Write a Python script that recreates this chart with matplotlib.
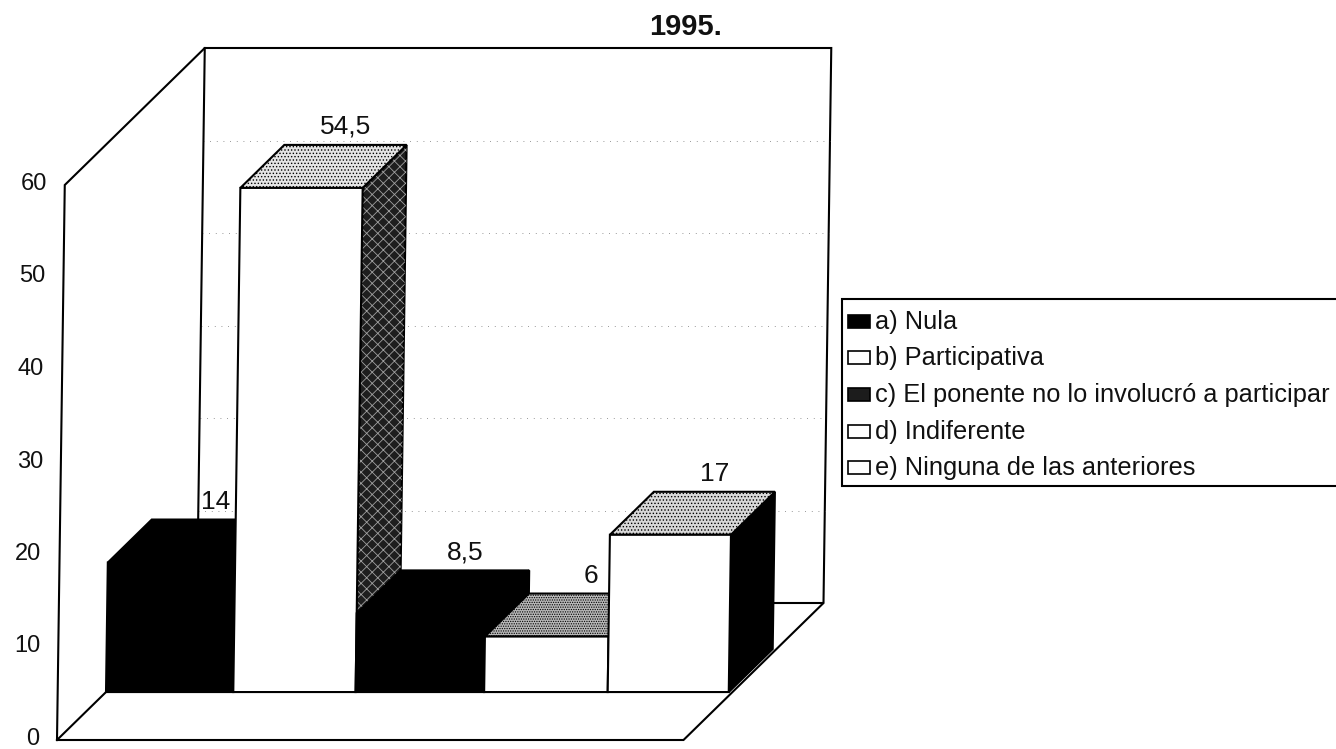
import matplotlib
matplotlib.use('Agg')
import matplotlib.pyplot as plt
from matplotlib.patches import Polygon, Rectangle

plt.rcParams['font.family'] = ['Liberation Sans', 'DejaVu Sans']
plt.rcParams['hatch.linewidth'] = 0.6

# Datos
categorias = ['a) Nula', 'b) Participativa', 'c) El ponente no lo involucró a participar',
              'd) Indiferente', 'e) Ninguna de las anteriores']
valores = [14, 54.5, 8.5, 6, 17]
etiquetas = ['14', '54,5', '8,5', '6', '17']
ticks_y = [0, 10, 20, 30, 40, 50, 60]

# Estilo de cada barra: frente, tapa, lado
col_frente = ['black', 'white', 'black', 'white', 'white']
col_tapa = ['black', '#e4e4e4', 'black', '#b8b8b8', '#d8d8d8']
col_lado = ['black', '#1e1e1e', 'black', 'black', 'black']
trama_tapa = [None, '.....', None, '.......', '.....']

# Escalas en pixeles de la imagen
W, H = 1336, 749
px_cat = 124.8
px_val = 9.25
x0, y0 = 57, 740
prof_x = 140 / px_cat
prof_y = 137 / px_val
inclina = 0.014 * px_val / px_cat
d_frente = 0.35
d_fondo = 0.664
ancho_suelo = 5.02
# Las barras del original no miden todas lo mismo
bordes = [0, 1.02, 2.0, 3.03, 4.02, 4.99]


def proy(u, v, d):
    return (u + prof_x * d + inclina * v, v + prof_y * d)


def fx(px):
    return px / W


def fy(py):
    return 1 - py / H


fig = plt.figure(figsize=(W / 100, H / 100), dpi=100, facecolor='white')
ax = fig.add_axes([0, 0, 1, 1])
ax.set_xlim(-x0 / px_cat, (W - x0) / px_cat)
ax.set_ylim(-(H - y0) / px_val, y0 / px_val)
ax.axis('off')

lw = 1.5
vmax = ticks_y[-1]

# Lineas de rejilla sobre la pared del fondo
for t in ticks_y[1:-1]:
    a, b = proy(0, t, 1), proy(ancho_suelo, t, 1)
    ax.plot([a[0], b[0]], [a[1], b[1]], color='#777777', lw=0.6,
            dashes=(1, 7), zorder=1)

# Pared izquierda, fondo y suelo
pared = [proy(0, 0, 0), proy(0, vmax, 0), proy(0, vmax, 1),
         proy(ancho_suelo, vmax, 1), proy(ancho_suelo, 0, 1), proy(ancho_suelo, 0, 0)]
ax.add_patch(Polygon(pared + [proy(0, 0, 0)], closed=True, fc='white', ec='black', lw=lw, zorder=0.5))
for p, q in [(proy(0, 0, 1), proy(0, vmax, 1)),
             (proy(0, 0, 0), proy(0, 0, 1)),
             (proy(0, 0, 1), proy(ancho_suelo, 0, 1))]:
    ax.plot([p[0], q[0]], [p[1], q[1]], color='black', lw=lw, zorder=2)

# Barras de izquierda a derecha, cada una tapa a la anterior
for i, v in enumerate(valores):
    z = 3 + i
    izq, der = bordes[i], bordes[i + 1]
    frente = [proy(izq, 0, d_frente), proy(izq, v, d_frente), proy(der, v, d_frente), proy(der, 0, d_frente)]
    tapa = [proy(izq, v, d_frente), proy(izq, v, d_fondo), proy(der, v, d_fondo), proy(der, v, d_frente)]
    lado = [proy(der, 0, d_frente), proy(der, v, d_frente), proy(der, v, d_fondo), proy(der, 0, d_fondo)]
    ax.add_patch(Polygon(lado, closed=True, fc=col_lado[i], ec='black', lw=lw, zorder=z))
    if i == 1:
        ax.add_patch(Polygon(lado, closed=True, fc='none', ec='#a0a0a0', lw=0, hatch='xxx', zorder=z))
    ax.add_patch(Polygon(tapa, closed=True, fc=col_tapa[i], ec='black', lw=lw, zorder=z, hatch=trama_tapa[i]))
    ax.add_patch(Polygon(frente, closed=True, fc=col_frente[i], ec='black', lw=lw, zorder=z))

# Etiquetas de valor, encima del borde trasero de cada barra
for i, (v, et) in enumerate(zip(valores, etiquetas)):
    x, y = proy((bordes[i] + bordes[i + 1]) / 2, v, d_fondo)
    ax.text(x, y + 18 / px_val, et, ha='center', va='center', fontsize=19, color='#111111', zorder=10)

# Eje de valores
for t in ticks_y:
    x, y = proy(0, t, 0)
    ax.text(x - 18 / px_cat, y + 1 / px_val, str(t), ha='right', va='center', fontsize=17, color='#111111')

fig.text(fx(686), fy(27), '1995.', ha='center', va='center', fontsize=21, fontweight='bold', color='#111111')

# Leyenda
fig.add_artist(Rectangle((fx(842), fy(486)), fx(520), 187 / H, transform=fig.transFigure,
                         fc='white', ec='black', lw=lw, zorder=2))
filas = [322, 358, 395, 432, 468]
col_leyenda = ['black', 'white', '#1c1c1c', 'white', 'white']
for nombre, py, col in zip(categorias, filas, col_leyenda):
    fig.add_artist(Rectangle((fx(848), fy(py + 6)), 22 / W, 13 / H, transform=fig.transFigure,
                             fc=col, ec='black', lw=1.2, zorder=3))
    fig.text(fx(875), fy(py), nombre, ha='left', va='center', fontsize=18.3, color='#111111', zorder=4)

fig.savefig('out.png', dpi=100)
